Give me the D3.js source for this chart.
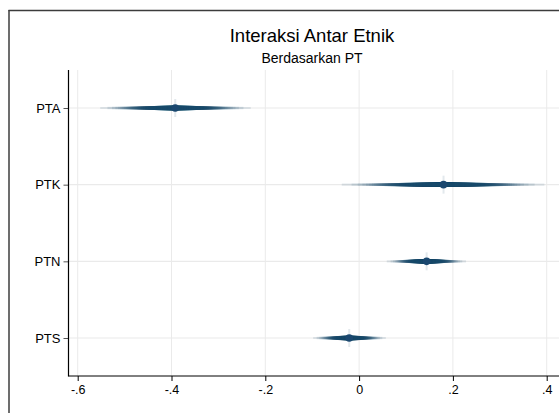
<!DOCTYPE html>
<html>
<head>
<meta charset="utf-8">
<script src="https://cdn.jsdelivr.net/npm/d3@7"></script>
<style>
  body { margin: 0; background: #fff; }
  text { font-family: "Liberation Sans", Arial, sans-serif; fill: #000; }
</style>
</head>
<body>
<div id="chart"></div>
<script>
// coefficient plot with smoothed confidence intervals
var categories = ["PTA", "PTK", "PTN", "PTS"];
var estimates = [-0.392, 0.180, 0.144, -0.021];
var ciLow = [-0.552, -0.037, 0.059, -0.098];   // outer (99%) bounds
var ciHigh = [-0.231, 0.395, 0.228, 0.057];
var xTicks = [-0.6, -0.4, -0.2, 0, 0.2, 0.4];
var xTickLabels = ["-.6", "-.4", "-.2", "0", ".2", ".4"];

var svgWidth = 559;
var svgHeight = 413;

// plot region
var plotLeft = 68.5, plotRight = 559, plotTop = 70, plotBottom = 376;

var svg = d3.select("#chart")
  .append("svg")
  .attr("width", svgWidth)
  .attr("height", svgHeight);

// outer graph frame (only top and left edges fall inside the picture)
svg.append("line")
  .attr("x1", 8.5).attr("x2", svgWidth)
  .attr("y1", 10.5).attr("y2", 10.5)
  .attr("stroke", "#3c3c3c")
  .attr("stroke-width", 1.5);
svg.append("line")
  .attr("x1", 9).attr("x2", 9)
  .attr("y1", 10).attr("y2", svgHeight)
  .attr("stroke", "#3c3c3c")
  .attr("stroke-width", 1.5);

var x = d3.scaleLinear()
  .domain([-0.6, 0.4])
  .range([77.7, 546.7]);

var y = d3.scalePoint()
  .domain(categories)
  .range([108, 338]);

// gridlines
svg.append("g").selectAll("line")
  .data(xTicks)
  .enter()
  .append("line")
  .attr("x1", d => x(d))
  .attr("x2", d => x(d))
  .attr("y1", plotTop)
  .attr("y2", plotBottom)
  .attr("stroke", "#eaeaea")
  .attr("stroke-width", 1);

svg.append("g").selectAll("line")
  .data(categories)
  .enter()
  .append("line")
  .attr("x1", plotLeft)
  .attr("x2", plotRight)
  .attr("y1", d => y(d))
  .attr("y2", d => y(d))
  .attr("stroke", "#eaeaea")
  .attr("stroke-width", 1.2);

// normal quantile via bisection on an erf approximation
function erf(v) {
  var s = v < 0 ? -1 : 1;
  v = Math.abs(v);
  var t = 1 / (1 + 0.3275911 * v);
  var p = t * (0.254829592 + t * (-0.284496736 + t * (1.421413741 + t * (-1.453152027 + t * 1.061405429))));
  return s * (1 - p * Math.exp(-v * v));
}
function zOf(level) {
  var lo = 0, hi = 5;
  for (var n = 0; n < 40; n++) {
    var mid = (lo + hi) / 2;
    if (erf(mid / Math.SQRT2) < level) lo = mid; else hi = mid;
  }
  return (lo + hi) / 2;
}
var z99 = zOf(0.99);

// smoothed CI: levels 1..99, outer levels thinner
var ciGroup = svg.append("g");
categories.forEach(function(c, i) {
  for (var L = 99; L >= 1; L--) {
    var f = zOf(L / 100) / z99;
    ciGroup.append("line")
      .attr("x1", x(estimates[i] - f * (estimates[i] - ciLow[i])))
      .attr("x2", x(estimates[i] + f * (ciHigh[i] - estimates[i])))
      .attr("y1", y(c))
      .attr("y2", y(c))
      .attr("stroke", "#1a476f")
      .attr("stroke-opacity", 0.12)
      .attr("stroke-width", 2.2 + 2.4 * (1 - Math.pow(L / 99, 3)));
  }
});

// point estimates
var markers = svg.append("g");
markers.selectAll("line")
  .data(categories)
  .enter()
  .append("line")
  .attr("x1", (d, i) => x(estimates[i]))
  .attr("x2", (d, i) => x(estimates[i]))
  .attr("y1", d => y(d) - 9)
  .attr("y2", d => y(d) + 9)
  .attr("stroke", "#1a476f")
  .attr("stroke-opacity", 0.12)
  .attr("stroke-width", 2);

markers.selectAll("circle")
  .data(categories)
  .enter()
  .append("circle")
  .attr("cx", (d, i) => x(estimates[i]))
  .attr("cy", d => y(d))
  .attr("r", 3.8)
  .attr("fill", "#1a476f");

// axes
var xAxis = d3.axisBottom(x)
  .tickValues(xTicks)
  .tickFormat((d, i) => xTickLabels[i])
  .tickSize(5)
  .tickSizeOuter(0)
  .tickPadding(4);

var xg = svg.append("g")
  .attr("transform", `translate(0, ${plotBottom})`)
  .call(xAxis);
xg.select(".domain").remove();
xg.append("line")
  .attr("x1", plotLeft)
  .attr("x2", plotRight)
  .attr("stroke", "#000")
  .attr("stroke-width", 1);
xg.selectAll(".tick line").attr("stroke", "#000");
xg.selectAll(".tick text")
  .style("font-size", "12.5px")
  .attr("font-family", null);

var yAxis = d3.axisLeft(y)
  .tickSize(5)
  .tickPadding(3);

var yg = svg.append("g")
  .attr("transform", `translate(${plotLeft}, 0)`)
  .call(yAxis);
yg.select(".domain").remove();
yg.append("line")
  .attr("y1", plotTop)
  .attr("y2", plotBottom + 0.5)
  .attr("stroke", "#000")
  .attr("stroke-width", 1.2);
yg.selectAll(".tick line").attr("stroke", "#555");
yg.selectAll(".tick text")
  .style("font-size", "13px")
  .attr("font-family", null);

// titles
svg.append("text")
  .attr("x", 312)
  .attr("y", 41.5)
  .attr("text-anchor", "middle")
  .style("font-size", "18.5px")
  .text("Interaksi Antar Etnik");

svg.append("text")
  .attr("x", 312)
  .attr("y", 63)
  .attr("text-anchor", "middle")
  .style("font-size", "14px")
  .text("Berdasarkan PT");
</script>
</body>
</html>
